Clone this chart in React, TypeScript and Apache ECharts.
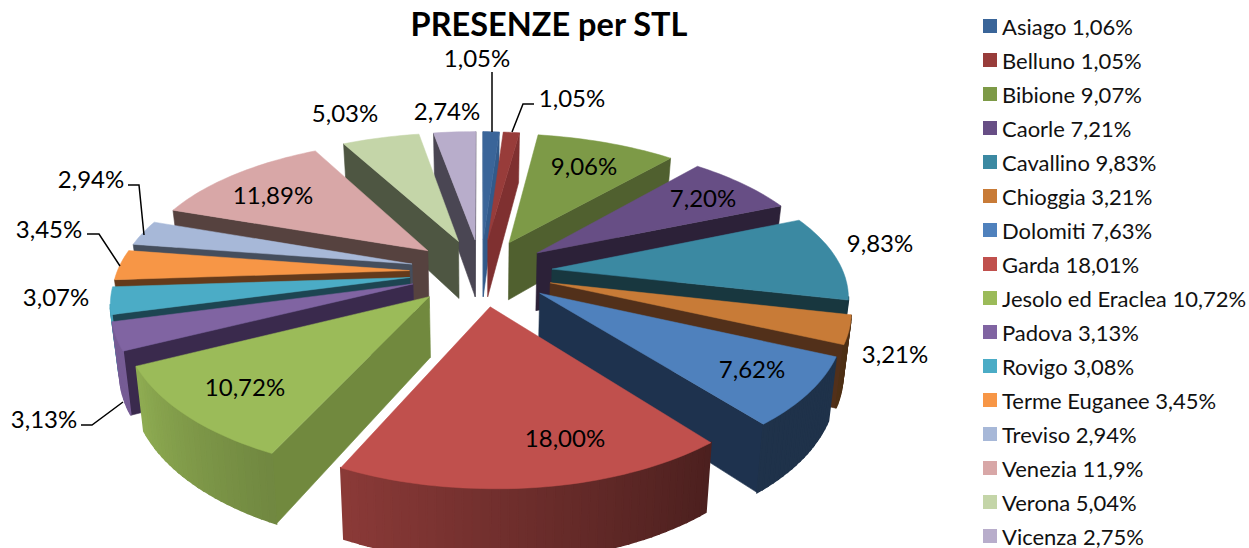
import React, { useEffect, useRef } from "react";
import * as echarts from "echarts";

const titleText = "PRESENZE per STL";
const names = ["Asiago","Belluno","Bibione","Caorle","Cavallino","Chioggia","Dolomiti","Garda","Jesolo ed Eraclea","Padova","Rovigo","Terme Euganee","Treviso","Venezia","Verona","Vicenza"];
const legendValues = ["1,06","1,05","9,07","7,21","9,83","3,21","7,63","18,01","10,72","3,13","3,08","3,45","2,94","11,9","5,04","2,75"];
const sliceValues = [1.05,1.05,9.06,7.2,9.83,3.21,7.62,18.0,10.72,3.13,3.07,3.45,2.94,11.89,5.03,2.74];

const topColors = ["#3a6599","#983c3a","#7d9a47","#674e85","#3b89a2","#c87b37","#4f81bd","#c0504d","#9bbb59","#8064a2","#4bacc6","#f79646","#a7b8d8","#d8a7a7","#c4d5a8","#b8adcb"];
const cutColors = ["#325a8a","#7f3030","#50602f","#2c2138","#18373f","#52301a","#1e324e","#4f1f1e","#71893e","#3a2a4d","#1d4552","#643a1b","#454e5d","#56423f","#4e5642","#4a4653"];

// Camera of the 3D pie
const CX = 481, Y0 = 272, AX = 292.5, CY = 137, BX = 0.15, BY = 0.172, EXPLODE = 0.245, DEPTH = 59, SINK = 0.978, ROLL = 0.01;

// Label layout
const labelCenters: number[][] = [[477,57],[572,97],[584,165],[703,197],[880,242],[895,353],[752,368],[565,437],[245,386],[44,418],[56,296],[49,228],[91,178],[273,194],[345,112],[447,110]];
const leaderLines: number[][][] = [
  [[492,72],[492,132]],
  [[534,104],[523,104],[512,132]],
  [[81,425],[92,425],[123,402]],
  [[87,234],[99,234],[120,266]],
  [[128,185],[139,185],[144,235]],
];

const total = sliceValues.reduce((a, b) => a + b, 0);
const starts: number[] = [];
sliceValues.reduce((acc, v, i) => { starts[i] = acc; return acc + v; }, 0);
const angleOf = (cum: number) => (cum / total) * Math.PI * 2;

function project(u: number, v: number, sunk: boolean): number[] {
  const fx = 1 / (1 - BX * v), fy = 1 / (1 - BY * v);
  let x = CX + AX * u * fx;
  let y = Y0 + CY * v * fy + ROLL * Math.max(0, x - CX);
  if (sunk) { x = CX + (x - CX) * SINK; y += DEPTH * fx; }
  return [x, y];
}

function shade(hex: string, k: number): string {
  const n = parseInt(hex.slice(1), 16);
  const c = (s: number) => Math.round(Math.min(255, ((n >> s) & 255) * k));
  return `rgb(${c(16)},${c(8)},${c(0)})`;
}
function wallShade(theta: number): number {
  const deg = (theta * 180) / Math.PI;
  return Math.max(0.39, Math.min(0.92, 0.39 + (deg - 140) * 0.0051));
}

function renderSlice(params: any, api: any) {
  const i = params.seriesIndex;
  const value = api.value(0);
  const a1 = angleOf(starts[i]);
  const a2 = angleOf(starts[i] + value);
  const mid = (a1 + a2) / 2;
  const ou = EXPLODE * Math.sin(mid), ov = -EXPLODE * Math.cos(mid);
  const steps = Math.max(4, Math.ceil(((a2 - a1) * 180) / Math.PI / 1.5));
  const arc: { u: number; v: number; t: number }[] = [];
  for (let s = 0; s <= steps; s++) {
    const t = a1 + ((a2 - a1) * s) / steps;
    arc.push({ u: ou + Math.sin(t), v: ov - Math.cos(t), t });
  }
  const children: any[] = [];
  const quad = (p: any, q: any, color: string, lw: number) => {
    const A = project(p.u, p.v, false), B = project(q.u, q.v, false);
    if (B[0] - A[0] >= 0) return;
    children.push({
      type: "polygon",
      shape: { points: [A, B, project(q.u, q.v, true), project(p.u, p.v, true)] },
      style: { fill: color, stroke: color, lineWidth: lw },
    });
  };
  const apex = { u: ou, v: ov };
  quad(apex, arc[0], cutColors[i], 0.6);
  quad(arc[steps], apex, cutColors[i], 0.6);
  for (let s = 0; s < steps; s++) {
    const tm = (arc[s].t + arc[s + 1].t) / 2;
    quad(arc[s], arc[s + 1], shade(topColors[i], wallShade(tm)), 1.6);
  }
  children.push({
    type: "polygon",
    shape: { points: [project(apex.u, apex.v, false), ...arc.map((p) => project(p.u, p.v, false))] },
    style: { fill: topColors[i], stroke: topColors[i], lineWidth: 0.5 },
  });
  return { type: "group", children };
}

const order = sliceValues
  .map((v, i) => ({ i, depth: -Math.cos(angleOf(starts[i] + v / 2)) }))
  .sort((a, b) => a.depth - b.depth);
const zOf: number[] = [];
order.forEach((o, rank) => { zOf[o.i] = 2 + rank; });

const fmtLabel = (v: number) => v.toFixed(2).replace(".", ",") + "%";
const legendNames = names.map((n, i) => `${n} ${legendValues[i]}%`);

const FONT = "Lato, 'Noto Sans', sans-serif";

export default function App() {
  const ref = useRef<HTMLDivElement>(null);
  useEffect(() => {
    document.body.style.margin = "0";
    const chart = echarts.init(ref.current!, undefined, { renderer: "svg" });
    chart.setOption({
      animation: false,
      backgroundColor: "#ffffff",
      title: {
        text: titleText, left: 544, top: 2, textAlign: "center",
        textStyle: { fontFamily: FONT, fontSize: 32.5, fontWeight: "bold", color: "#000" },
      },
      legend: {
        orient: "vertical", left: 983, top: 14, height: 560, padding: 0, icon: "rect", itemWidth: 14, itemHeight: 14,
        itemGap: 10, selectedMode: false, data: legendNames,
        textStyle: { fontFamily: FONT, fontSize: 22, color: "#111", lineHeight: 24 },
      },
      series: names.map((_, i) => ({
        type: "custom",
        name: legendNames[i],
        coordinateSystem: "none",
        z: zOf[i],
        silent: true,
        itemStyle: { color: topColors[i] },
        data: [[sliceValues[i]]],
        renderItem: renderSlice,
      })),
      graphic: [
        ...sliceValues.map((v, i) => ({
          type: "text", z: 50, x: labelCenters[i][0], y: labelCenters[i][1], silent: true,
          style: { text: fmtLabel(v), fontFamily: FONT, fontSize: 24, fill: "#000", textAlign: "center", textVerticalAlign: "middle" },
        })),
        ...leaderLines.map((pts) => ({
          type: "polyline", z: 50, silent: true, shape: { points: pts },
          style: { stroke: "#000", lineWidth: 1.5, fill: "none" },
        })),
      ],
    });
    return () => chart.dispose();
  }, []);
  return <div ref={ref} style={{ position: "absolute", left: 0, top: 0, width: 1249, height: 548 }} />;
}
